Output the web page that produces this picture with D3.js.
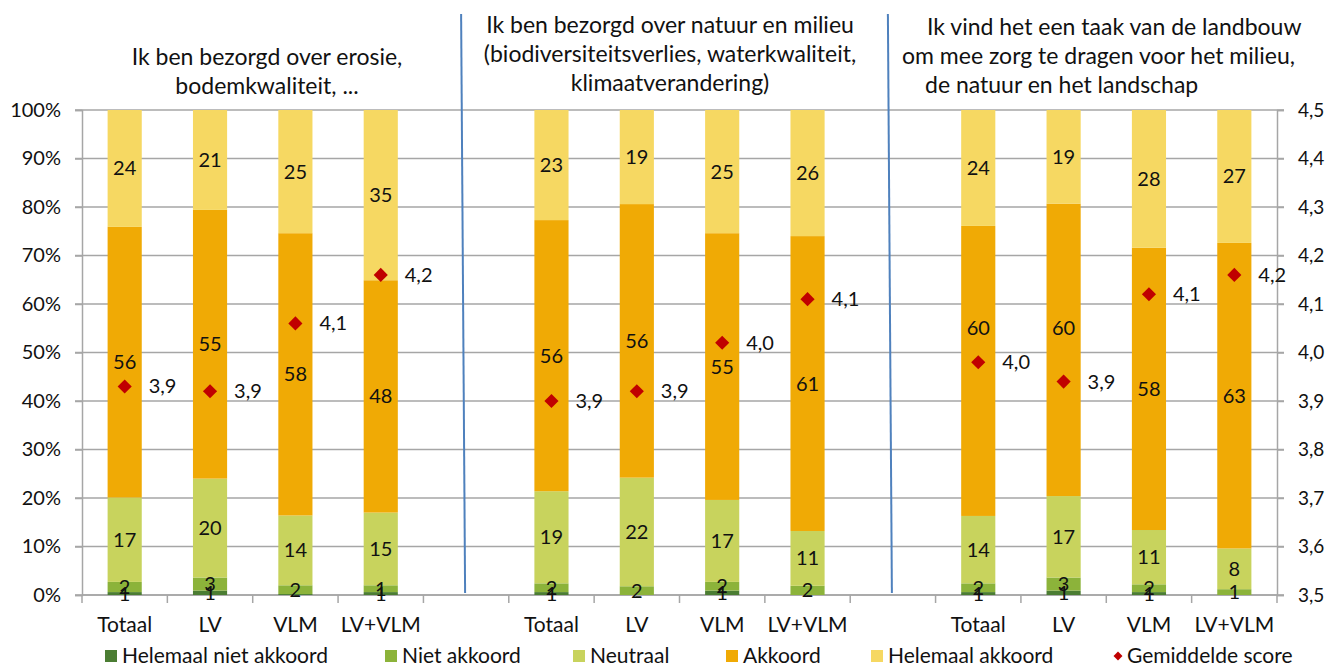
<!DOCTYPE html>
<html>
<head>
<meta charset="utf-8">
<script src="https://cdn.jsdelivr.net/npm/d3@7"></script>
<style>
  body { margin: 0; background: #fff; }
  text { font-family: Lato, "Open Sans", sans-serif; fill: #111; }
</style>
</head>
<body>
<div id="chart"></div>
<script>
// categories and series
var categories = ["Totaal", "LV", "VLM", "LV+VLM"]
var seriesNames = ["Helemaal niet akkoord", "Niet akkoord", "Neutraal", "Akkoord", "Helemaal akkoord"]
var seriesColors = ["#4b7d33", "#8cb33a", "#c8d35d", "#f0aa05", "#f6d862"]

// percentages per category (same order as seriesNames)
var erosieValues = [
    [0.6, 2.1, 17.4, 55.8, 24.1],
    [0.9, 2.7, 20.4, 55.4, 20.6],
    [0.2, 1.8, 14.4, 58.2, 25.4],
    [0.6, 1.4, 15.0, 47.9, 35.1]
]
var natuurValues = [
    [0.6, 1.8, 19.0, 55.9, 22.7],
    [0.0, 1.8, 22.4, 56.4, 19.4],
    [0.9, 1.8, 16.9, 55.0, 25.4],
    [0.0, 1.9, 11.3, 60.8, 26.0]
]
var taakValues = [
    [0.6, 1.8, 13.9, 59.8, 23.9],
    [0.9, 2.7, 16.8, 60.3, 19.3],
    [0.6, 1.6, 11.2, 58.2, 28.4],
    [0.0, 1.2, 8.4, 63.0, 27.4]
]

// gemiddelde score per category
var erosieScores = [3.93, 3.92, 4.06, 4.16]
var natuurScores = [3.90, 3.92, 4.02, 4.11]
var taakScores = [3.98, 3.94, 4.12, 4.16]

var titles = [
    ["Ik ben bezorgd over erosie,", "bodemkwaliteit, ..."],
    ["Ik ben bezorgd over natuur en milieu", "(biodiversiteitsverlies, waterkwaliteit,", "klimaatverandering)"],
    ["Ik vind het een taak van de landbouw", "om mee zorg te dragen voor het milieu,", "de natuur en het landschap"]
]

var leftTicks = [0, 10, 20, 30, 40, 50, 60, 70, 80, 90, 100]
var rightTicks = [3.5, 3.6, 3.7, 3.8, 3.9, 4.0, 4.1, 4.2, 4.3, 4.4, 4.5]

var width = 1330
var height = 666
var margins = { top: 110, right: 53, bottom: 71, left: 82 }

var svg = d3.select("#chart")
    .append("svg")
    .attr("width", width)
    .attr("height", height)

// build slots: 4 cats, blank, 4 cats, blank, 4 cats
var groupData = [
    { values: erosieValues, scores: erosieScores },
    { values: natuurValues, scores: natuurScores },
    { values: taakValues, scores: taakScores }
]
var slots = []
var rows = []
groupData.forEach(function(g, gi) {
    categories.forEach(function(c, ci) {
        var key = gi + "-" + c
        slots.push(key)
        var row = { key: key, cat: c, group: gi, score: g.scores[ci] }
        seriesNames.forEach(function(s, si) { row[s] = g.values[ci][si] })
        rows.push(row)
    })
    if (gi < 2) slots.push("blank" + gi)
})

var xScale = d3.scaleBand()
    .domain(slots)
    .range([margins.left, width - margins.right])
    .paddingInner(0.6)
    .paddingOuter(0.3)
var step = xScale.step()
var yScale = d3.scaleLinear().domain([0, 100]).range([height - margins.bottom, margins.top])
var y2Scale = d3.scaleLinear().domain([3.5, 4.5]).range([height - margins.bottom, margins.top])

var gridColor = "#a6a6a6"

// gridlines
svg.append("g")
    .selectAll("line")
    .data(leftTicks)
    .enter()
    .append("line")
    .attr("x1", margins.left - 7)
    .attr("x2", width - margins.right + 7)
    .attr("y1", d => yScale(d))
    .attr("y2", d => yScale(d))
    .attr("stroke", gridColor)
    .attr("stroke-width", 1.5)

// left axis
var yaxis = d3.axisLeft(yScale).tickValues(leftTicks).tickFormat(d => d + "%").tickSize(7).tickPadding(14)
var gy = svg.append("g")
    .attr("transform", "translate(" + margins.left + ", 0)")
    .call(yaxis)
gy.select(".domain").attr("stroke", gridColor).attr("stroke-width", 1.5)
gy.selectAll(".tick line").attr("stroke", gridColor).attr("stroke-width", 1.5)
gy.selectAll("text").attr("font-size", "20px").attr("font-family", "Lato").attr("fill", "#111")

// right axis
var y2axis = d3.axisRight(y2Scale).tickValues(rightTicks).tickFormat(d => d3.format(".1f")(d).replace(".", ",")).tickSize(7).tickPadding(14)
var gy2 = svg.append("g")
    .attr("transform", "translate(" + (width - margins.right) + ", 0)")
    .call(y2axis)
gy2.select(".domain").attr("stroke", gridColor).attr("stroke-width", 1.5)
gy2.selectAll(".tick line").attr("stroke", gridColor).attr("stroke-width", 1.5)
gy2.selectAll("text").attr("font-size", "19px").attr("font-family", "Lato").attr("fill", "#111")

// x axis
var bottom = height - margins.bottom
svg.append("line")
    .attr("x1", margins.left)
    .attr("x2", width - margins.right)
    .attr("y1", bottom)
    .attr("y2", bottom)
    .attr("stroke", gridColor)
    .attr("stroke-width", 1.5)
svg.append("g")
    .selectAll("line")
    .data(d3.range(slots.length + 1))
    .enter()
    .append("line")
    .attr("x1", i => margins.left + i * step)
    .attr("x2", i => margins.left + i * step)
    .attr("y1", bottom)
    .attr("y2", bottom + 8)
    .attr("stroke", gridColor)
    .attr("stroke-width", 1.5)
svg.append("g")
    .selectAll("text")
    .data(rows)
    .enter()
    .append("text")
    .attr("x", d => xScale(d.key) + xScale.bandwidth() / 2)
    .attr("y", bottom + 37)
    .attr("text-anchor", "middle")
    .attr("font-size", "21px")
    .text(d => d.cat)

// stacked bars
var stack = d3.stack().keys(seriesNames)
var stacked = stack(rows)

var layers = svg.append("g")
    .selectAll("g")
    .data(stacked)
    .enter()
    .append("g")
    .attr("fill", (d, i) => seriesColors[i])

layers.selectAll("rect")
    .data(d => d)
    .enter()
    .append("rect")
    .attr("x", d => xScale(d.data.key))
    .attr("width", xScale.bandwidth())
    .attr("y", d => yScale(d[1]))
    .attr("height", d => yScale(d[0]) - yScale(d[1]))

// segment labels (akkoord label lifted when the diamond sits on it, as in the original)
function labelY(d) {
    var y = yScale((d[0] + d[1]) / 2)
    var dy = y2Scale(d.data.score)
    if (Math.abs(y - dy) < 12 || (d.data.group == 2 && Math.abs(y - dy) < 36)) y = yScale(55)
    return y
}
var labelGroup = svg.append("g")
stacked.forEach(function(layer) {
    labelGroup.selectAll(null)
        .data(layer.filter(d => d[1] - d[0] >= 0.5))
        .enter()
        .append("text")
        .attr("x", d => xScale(d.data.key) + xScale.bandwidth() / 2)
        .attr("y", d => labelY(d))
        .attr("dy", "0.35em")
        .attr("text-anchor", "middle")
        .attr("font-size", "20px")
        .text(d => Math.round(d[1] - d[0]))
})

// divider lines
var dividers = [0, 1]
svg.append("g")
    .selectAll("line")
    .data(dividers)
    .enter()
    .append("line")
    .attr("x1", i => xScale("blank" + i) + xScale.bandwidth() / 2 - 5)
    .attr("x2", i => xScale("blank" + i) + xScale.bandwidth() / 2 - 1)
    .attr("y1", 14)
    .attr("y2", bottom - 2)
    .attr("stroke", "#4f81bd")
    .attr("stroke-width", 2)

// gemiddelde score diamonds
var diamond = d3.symbol().type(d3.symbolSquare).size(100)
svg.append("g")
    .selectAll("path")
    .data(rows)
    .enter()
    .append("path")
    .attr("d", diamond)
    .attr("transform", d => "translate(" + (xScale(d.key) + xScale.bandwidth() / 2) + "," + y2Scale(d.score) + ") rotate(45)")
    .attr("fill", "#c00000")
svg.append("g")
    .selectAll("text")
    .data(rows)
    .enter()
    .append("text")
    .attr("x", d => xScale(d.key) + xScale.bandwidth() / 2 + 24)
    .attr("y", d => y2Scale(d.score))
    .attr("dy", "0.35em")
    .attr("font-size", "20px")
    .text(d => d3.format(".1f")(d.score).replace(".", ","))

// titles
var titleX = [267, 670, 902]
var titleAnchor = ["middle", "middle", "start"]
var titleIndent = [[0, 0], [0, 0, 0], [25, 0, 23]]
var titleBase = [65, 33, 35]
titles.forEach(function(lines, gi) {
    svg.append("text")
        .attr("text-anchor", titleAnchor[gi])
        .attr("font-size", "23px")
        .selectAll("tspan")
        .data(lines)
        .enter()
        .append("tspan")
        .attr("x", (d, i) => titleX[gi] + titleIndent[gi][i])
        .attr("y", (d, i) => titleBase[gi] + i * 29)
        .text(d => d)
})

// legend
var legendItems = seriesNames.map((s, i) => ({ name: s, color: seriesColors[i], type: "rect" }))
legendItems.push({ name: "Gemiddelde score", color: "#c00000", type: "diamond" })
var legendX = [105, 385, 573, 726, 871, 1112]
var legendY = 656
var legend = svg.append("g")
    .selectAll("g")
    .data(legendItems)
    .enter()
    .append("g")
    .attr("transform", (d, i) => "translate(" + legendX[i] + "," + legendY + ")")
legend.filter(d => d.type == "rect")
    .append("rect")
    .attr("x", 0)
    .attr("y", -6)
    .attr("width", 12)
    .attr("height", 12)
    .attr("fill", d => d.color)
legend.filter(d => d.type == "diamond")
    .append("path")
    .attr("d", d3.symbol().type(d3.symbolSquare).size(40))
    .attr("transform", "translate(6,0) rotate(45)")
    .attr("fill", d => d.color)
legend.append("text")
    .attr("x", d => d.type == "rect" ? 17 : 15)
    .attr("dy", "0.35em")
    .attr("font-size", "21px")
    .text(d => d.name)
</script>
</body>
</html>
